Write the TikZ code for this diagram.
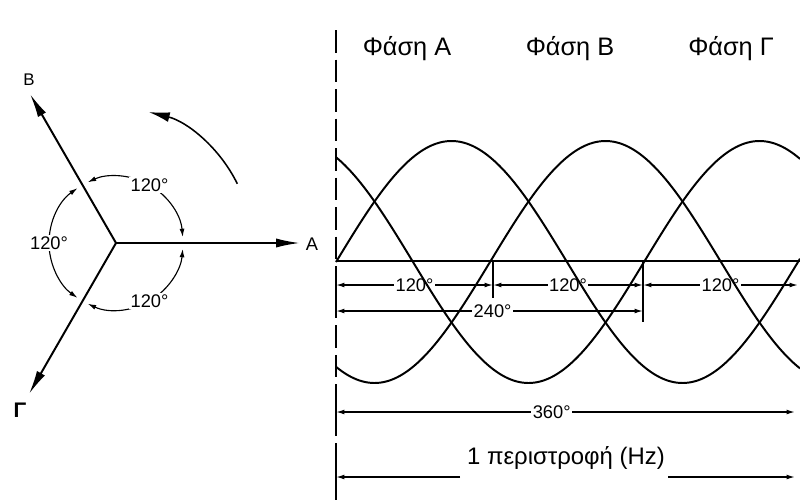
\documentclass[tikz,border=0pt]{standalone}
\usepackage{fontspec}
\setmainfont{Liberation Sans}
\usetikzlibrary{arrows.meta}

\begin{document}
\begin{tikzpicture}[x=0.025cm, y=-0.025cm, >={Latex[length=6pt,width=3.5pt]},
  wave/.style={line width=1.4pt},
  dim/.style={line width=1pt},
  vec/.style={line width=1.4pt, -{Latex[length=17pt,width=6.5pt]}},
  deg/.style={font=\fontsize{13}{13}\selectfont, fill=white, inner sep=1pt},
  phase/.style={font=\fontsize{18}{18}\selectfont}]
\useasboundingbox (0,0) rectangle (800,500);
% phasor star
\coordinate (O) at (116,243);
\coordinate (tA) at (300,243);
\coordinate (tB) at (30,94);
\coordinate (tG) at (29,394);
\draw[vec] (O) -- (tA);
\draw[vec] (O) -- (tB);
\draw[vec] (O) -- (tG);
\node[font=\fontsize{13}{13}\selectfont] (labA) at (312,244) {A};
\node[font=\fontsize{12}{12}\selectfont] (labB) at (29,80) {B};
\node[font=\bfseries\fontsize{15}{15}\selectfont] (labG) at (20,410) {Γ};
\begin{scope}[shift={(O)}, yscale=-1]
\foreach \a in {0,120,240} {
\draw[line width=0.8pt, <->] (\a+5:67) arc[start angle=\a+5, end angle=\a+115, radius=67];
\node[deg] (ang\a) at (\a+60:67) {120°};
}
\draw[line width=1.1pt, -{Latex[length=15pt,width=7pt]}] (26:135) arc[start angle=26, end angle=76, radius=135];
\end{scope}
% time axis
\coordinate (top) at (336,30);
\coordinate (bot) at (336,500);
\draw[line width=1.5pt, dash pattern=on 16pt off 5pt] (top) -- (bot);
\draw[line width=1.5pt] (336,280) -- (336,318);
\draw[line width=1.5pt] (336,398) -- (336,426);
\draw[line width=1.5pt] (336,463) -- (336,500);
\coordinate (z0) at (336,261);
\coordinate (z3) at (800,261);
\draw[line width=1.7pt] (z0) -- (z3);
\coordinate (k1t) at (493,261);
\coordinate (k1b) at (493,298);
\coordinate (k2t) at (643,261);
\coordinate (k2b) at (643,322);
\draw[dim] (k1t) -- (k1b);
\draw[dim] (k2t) -- (k2b);
% dimension rows
\coordinate (r0) at (336,285);
\coordinate (r1) at (493,285);
\coordinate (r2) at (643,285);
\coordinate (r3) at (798,285);
\draw[dim, <->] (r0) -- node[deg] (g1) {120°} (r1);
\draw[dim, <->] (r1) -- node[deg] (g2) {120°} (r2);
\draw[dim, <->] (r2) -- node[deg] (g3) {120°} (r3);
\coordinate (s0) at (336,311);
\coordinate (s2) at (643,311);
\draw[dim, <->] (s0) -- node[deg, pos=0.51] (g4) {240°} (s2);
\coordinate (u0) at (336,412);
\coordinate (u3) at (795,412);
\draw[dim, <->] (u0) -- node[deg, pos=0.47] (g5) {360°} (u3);
\node[font=\fontsize{17}{17}\selectfont] (rev) at (566,458) {1 περιστροφή (Hz)};
\coordinate (v0) at (336,477);
\coordinate (v1) at (460,477);
\coordinate (v2) at (668,477);
\coordinate (v3) at (795,477);
\draw[dim, ->] (v1) -- (v0);
\draw[dim, ->] (v2) -- (v3);
% three phases
\foreach \ph in {0,120,240}
\draw[wave] plot[domain=336:800, samples=160, smooth] (\x, {262-121*sin(((\x-336)/462)*360-\ph)});
\node[phase] (phA) at (407,49) {Φάση Α};
\node[phase] (phB) at (570,49) {Φάση Β};
\node[phase] (phG) at (731,49) {Φάση Γ};
\end{tikzpicture}
\end{document}
